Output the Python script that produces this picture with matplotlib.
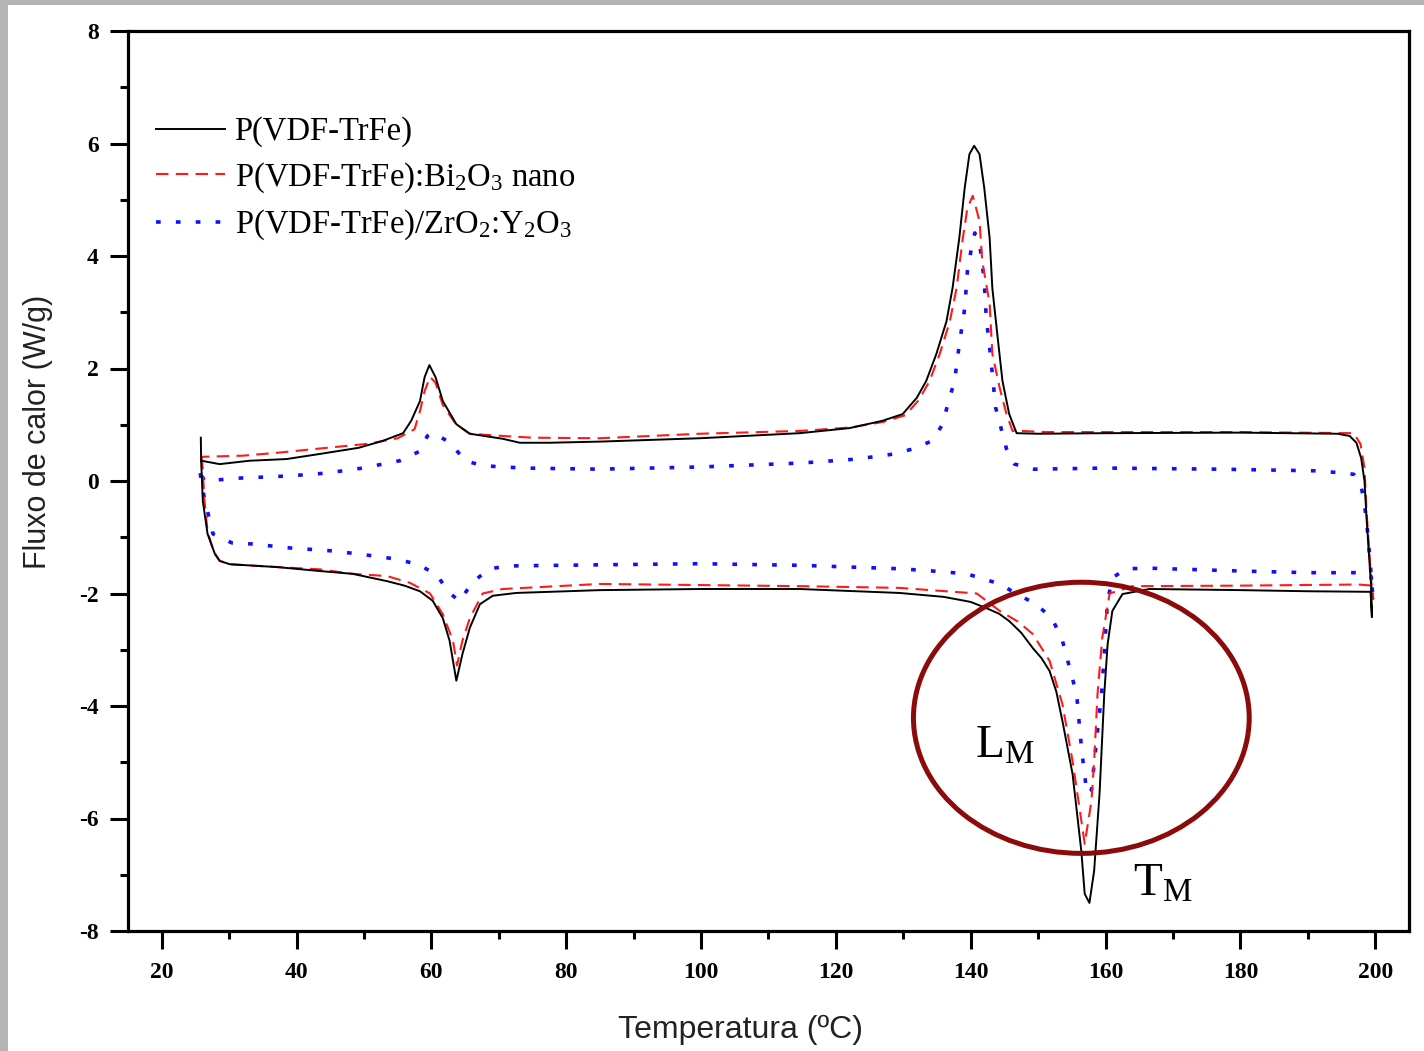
import matplotlib
matplotlib.use("Agg")
import matplotlib.pyplot as plt
from matplotlib.patches import Ellipse, Rectangle
import numpy as np

plt.rcParams["mathtext.default"] = "regular"

# ---- DSC data: heat flow (W/g) vs temperature (°C) ----
# Pure copolymer
T_heat_pure = [25.8, 25.85, 26.1, 26.8, 27.9, 28.6, 30.1, 37.1, 43.4, 48.3, 53.4, 56.0, 58.3,
               60.2, 61.7, 62.7, 63.7, 64.6, 65.7, 67.2, 69.1, 72.6, 85.0, 100.0, 114.6,
               129.4, 136.0, 140.0, 142.3, 144.2, 145.7, 147.5, 149.2, 150.5, 151.7, 152.7,
               153.6, 155.1, 156.4, 156.9, 157.6, 158.3, 159.1, 159.8, 160.3, 161.0, 162.5,
               166.5, 180.0, 190.0, 199.3, 199.5]
Q_heat_pure = [0.77, 0.36, -0.36, -0.94, -1.30, -1.42, -1.48, -1.53, -1.60, -1.65, -1.78, -1.86, -1.96,
               -2.13, -2.44, -2.84, -3.55, -3.08, -2.61, -2.19, -2.04, -1.99, -1.94, -1.92, -1.92,
               -1.99, -2.06, -2.15, -2.26, -2.36, -2.49, -2.70, -2.97, -3.15, -3.38, -3.75,
               -4.27, -5.21, -6.58, -7.34, -7.50, -6.93, -5.56, -3.79, -2.90, -2.31, -2.01,
               -1.92, -1.94, -1.96, -1.97, -2.42]
T_cool_pure = [199.5, 199.4, 199.1, 198.7, 198.4, 197.9, 197.2, 196.2, 194.4, 180.0, 160.0, 150.0,
               146.8, 145.7, 144.7, 144.0, 143.2, 142.8, 142.0, 141.3, 140.5, 139.8, 139.1, 138.3,
               137.3, 136.4, 134.9, 133.4, 132.0, 129.9, 126.9, 122.0, 114.6, 99.8, 84.9, 77.5,
               73.1, 70.6, 65.7, 63.7, 61.7, 60.6, 59.7, 59.0, 58.3, 57.0, 55.8, 52.7, 49.2,
               43.4, 38.5, 33.0, 28.6, 25.9]
Q_cool_pure = [-2.42, -1.90, -1.37, -0.66, 0.00, 0.41, 0.68, 0.80, 0.84, 0.86, 0.85, 0.84,
               0.85, 1.19, 1.78, 2.54, 3.43, 4.32, 5.21, 5.81, 5.96, 5.81, 5.21, 4.32,
               3.43, 2.84, 2.26, 1.78, 1.48, 1.19, 1.07, 0.94, 0.85, 0.76, 0.70, 0.68,
               0.68, 0.75, 0.84, 1.01, 1.42, 1.85, 2.06, 1.85, 1.42, 1.07, 0.85, 0.71, 0.59,
               0.48, 0.39, 0.36, 0.30, 0.36]

# Composite with Bi2O3 nanoparticles
T_heat_bi = [25.9, 26.1, 26.3, 26.8, 27.7, 28.6, 30.1, 37.1, 43.4, 48.3, 53.4, 56.8, 59.8,
             61.7, 63.2, 63.8, 64.6, 65.7, 67.6, 70.6, 85.0, 115.0, 129.4, 140.9, 144.3,
             147.0, 149.2, 151.7, 153.6, 155.1, 156.4, 156.9, 157.9, 158.3, 158.8, 159.5, 160.6,
             164.0, 180.0, 197.5, 199.5, 199.7]
Q_heat_bi = [0.43, 0.20, -0.30, -0.90, -1.25, -1.42, -1.48, -1.53, -1.57, -1.65, -1.69, -1.81, -2.00,
             -2.37, -2.84, -3.28, -2.84, -2.44, -2.00, -1.92, -1.83, -1.87, -1.90, -2.00, -2.31,
             -2.50, -2.72, -3.20, -3.97, -4.98, -6.04, -6.45, -5.69, -4.98, -3.79, -2.79, -2.00,
             -1.87, -1.86, -1.84, -1.86, -2.10]
T_cool_bi = [199.7, 199.4, 199.1, 198.7, 198.4, 197.8, 196.8, 180.0, 160.0, 151.0, 147.6,
             146.2, 145.3, 144.3, 143.2, 142.8, 141.7, 141.3, 140.3, 139.5, 138.8, 137.9,
             136.9, 135.4, 133.9, 132.3, 130.3, 127.0, 122.0, 114.6, 99.8, 84.9, 75.0, 70.6,
             65.7, 63.7, 61.7, 60.6, 59.8, 59.0, 58.3, 57.5, 55.0, 50.5, 44.5, 37.0, 32.0, 26.0]
Q_cool_bi = [-2.10, -1.78, -1.24, -0.53, 0.23, 0.66, 0.85, 0.87, 0.87, 0.87, 0.89,
             0.89, 1.19, 1.65, 2.26, 3.15, 3.91, 4.62, 5.07, 4.85, 4.30, 3.43,
             2.84, 2.26, 1.78, 1.44, 1.17, 1.05, 0.95, 0.89, 0.84, 0.76, 0.77, 0.80,
             0.84, 1.00, 1.35, 1.75, 1.85, 1.60, 1.24, 0.92, 0.76, 0.66, 0.59, 0.50, 0.45, 0.43]

# Composite with ZrO2:Y2O3
T_heat_zr = [25.7, 26.4, 26.9, 27.6, 30.4, 33.5, 39.0, 45.0, 49.4, 54.9, 57.9, 60.8, 62.4,
             64.2, 66.0, 68.6, 71.6, 85.0, 100.0, 115.0, 129.4, 134.3, 139.4, 144.3, 146.7,
             149.7, 152.1, 153.6, 154.9, 155.7, 156.1, 156.5, 156.9, 157.2, 157.9, 158.3,
             158.8, 159.4, 159.8, 160.1, 160.3, 161.0, 163.1, 166.5, 180.0, 190.0, 198.5,
             199.4, 199.6]
Q_heat_zr = [0.14, -0.36, -0.59, -0.94, -1.10, -1.12, -1.19, -1.24, -1.30, -1.39, -1.48, -1.66, -1.96,
             -2.14, -1.81, -1.56, -1.51, -1.49, -1.47, -1.50, -1.56, -1.60, -1.65, -1.83, -2.00,
             -2.19, -2.45, -2.84, -3.43, -3.79, -4.32, -4.85, -5.21, -5.56, -5.50, -5.03,
             -4.44, -3.79, -3.08, -2.49, -2.13, -1.72, -1.56, -1.55, -1.60, -1.63, -1.63,
             -1.70, -2.00]
T_cool_zr = [199.6, 199.4, 199.1, 198.8, 198.4, 197.9, 196.8, 191.8, 177.0, 160.0, 149.4,
             146.5, 145.3, 143.7, 143.2, 142.8, 142.3, 142.0, 141.7, 141.3, 140.6, 140.1,
             139.5, 139.1, 138.3, 137.6, 136.6, 135.8, 134.2, 131.4, 128.6, 123.1, 115.0,
             100.0, 85.0, 73.7, 67.7, 65.0, 62.8, 60.2, 59.4, 58.3, 55.3, 49.8, 44.4, 38.9,
             31.3, 26.4, 25.7]
Q_cool_zr = [-2.00, -1.69, -1.24, -0.83, -0.41, -0.09, 0.12, 0.18, 0.21, 0.23, 0.21,
             0.30, 0.57, 1.30, 1.90, 2.37, 2.90, 3.55, 3.86, 4.23, 4.41, 4.14,
             3.73, 3.07, 2.43, 1.78, 1.37, 1.00, 0.71, 0.57, 0.48, 0.39, 0.32,
             0.25, 0.21, 0.23, 0.27, 0.36, 0.68, 0.86, 0.80, 0.53, 0.36, 0.23, 0.14, 0.09,
             0.05, 0.00, 0.14]

labels = ["P(VDF-TrFe)",
          "P(VDF-TrFe):Bi$_2$O$_3$ nano",
          "P(VDF-TrFe)/ZrO$_2$:Y$_2$O$_3$"]

x_ticks = np.arange(20, 201, 20)
y_ticks = np.arange(-8, 9, 2)

# ---- figure ----
fig = plt.figure(figsize=(14.24, 10.51), dpi=100)
fig.patch.set_facecolor("white")
# grey slide border on the left and top
fig.add_artist(Rectangle((0, 0), 8 / 1424, 1, transform=fig.transFigure,
                         facecolor="#b4b4b4", edgecolor="none", zorder=0))
fig.add_artist(Rectangle((0, 1 - 5 / 1051), 1, 5 / 1051, transform=fig.transFigure,
                         facecolor="#b4b4b4", edgecolor="none", zorder=0))

ax = fig.add_axes([128 / 1424, 120 / 1051, 1281 / 1424, 900 / 1051])

ax.plot(T_heat_pure + T_cool_pure, Q_heat_pure + Q_cool_pure, color="black",
        lw=1.4, ls="-", label=labels[0], zorder=4)
ax.plot(T_heat_bi + T_cool_bi, Q_heat_bi + Q_cool_bi, color="#ff1a1a",
        lw=1.5, ls=(0, (6, 3.5)), label=labels[1], zorder=3)
ax.plot(T_heat_zr + T_cool_zr, Q_heat_zr + Q_cool_zr, color="#1010ff",
        lw=2.6, ls=(0, (1.3, 4.2)), label=labels[2], zorder=2)

ax.set_xlim(15, 205)
ax.set_ylim(-8, 8)
ax.set_xticks(x_ticks)
ax.set_xticks(np.arange(30, 201, 20), minor=True)
ax.set_yticks(y_ticks)
ax.set_yticks(np.arange(-7, 8, 2), minor=True)

tick_font = dict(family="Liberation Serif", weight="bold", size=17)
ax.set_xticklabels([str(v) for v in x_ticks], fontdict=tick_font)
ax.set_yticklabels([str(v) for v in y_ticks], fontdict=tick_font)
ax.tick_params(axis="x", which="major", direction="out", length=13, width=2.2, pad=9)
ax.tick_params(axis="y", which="major", direction="out", length=13, width=2.2, pad=8)
ax.tick_params(which="minor", direction="out", length=6, width=2.2)
ax.tick_params(top=False, right=False)
for sp in ax.spines.values():
    sp.set_linewidth(2.3)

fig.text(740 / 1424, 1 - 1030 / 1051, "Temperatura (ºC)", family="Liberation Sans",
         size=23, ha="center", va="center", color="#222222")
fig.text(38 / 1424, 1 - 432 / 1051, "Fluxo de calor (W/g)", family="Liberation Sans",
         size=22, ha="center", va="center", rotation=90, color="#222222")

leg = ax.legend(loc="upper left", bbox_to_anchor=(0.022, 0.905), frameon=False,
                prop=dict(family="Liberation Serif", size=23.5), handlelength=2.1,
                handletextpad=0.3, labelspacing=0.4, borderpad=0, borderaxespad=0)

# melting region highlight
ax.add_patch(Ellipse((156.4, -4.21), 49.8, 4.82, facecolor="none",
                     edgecolor="#8b0a0a", lw=3.6, zorder=5))
ax.text(140.6, -4.92, "L$_M$", family="Liberation Serif", size=34, color="black")
ax.text(164.0, -7.38, "T$_M$", family="Liberation Serif", size=34, color="black")

fig.savefig("out.png", dpi=100, facecolor="white")
